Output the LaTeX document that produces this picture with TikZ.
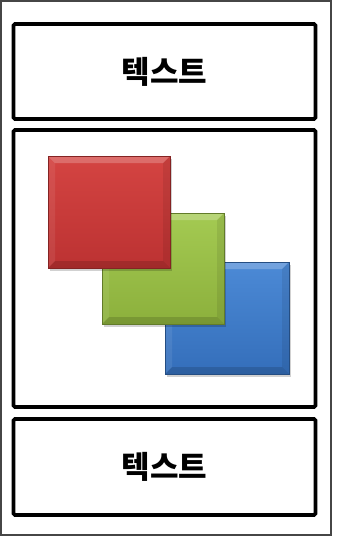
\documentclass[tikz,border=0pt]{standalone}
\usepackage{fontspec}
\usepackage{tikz}
\newfontfamily\kor{Noto Sans CJK KR}
\definecolor{frame_gray}{RGB}{70, 70, 70}
\definecolor{sq_red}{RGB}{212, 68, 66}
\definecolor{sq_red_dk}{RGB}{188, 50, 50}
\definecolor{sq_green}{RGB}{164, 202, 82}
\definecolor{sq_green_dk}{RGB}{140, 176, 60}
\definecolor{sq_blue}{RGB}{76, 138, 214}
\definecolor{sq_blue_dk}{RGB}{52, 110, 186}

\tikzset{
  panel/.style={draw, line width=3.6pt, rounded corners=1.5pt, minimum width=302pt,
    inner sep=0pt, font=\kor\bfseries\fontsize{31}{34}\selectfont},
}

% #1,#2 upper left corner, #3 width, #4 height, #5/#6 light/dark colour
\newcommand{\bevelsq}[6]{
  \fill[black, opacity=0.18] (#1+2, #2+3) rectangle ++(#3, #4);
  \shade[top color=#5, bottom color=#6] (#1, #2) rectangle ++(#3, #4);
  \fill[white, opacity=0.22] (#1, #2) -- ++(#3, 0) -- ++(-7, 7) -- (#1+7, #2+7) -- cycle;
  \fill[white, opacity=0.08] (#1, #2) -- (#1+7, #2+7) -- (#1+7, #2+#4-7) -- (#1, #2+#4) -- cycle;
  \fill[black, opacity=0.14] (#1, #2+#4) -- (#1+7, #2+#4-7) -- (#1+#3-7, #2+#4-7) -- (#1+#3, #2+#4) -- cycle;
  \fill[black, opacity=0.08] (#1+#3, #2) -- (#1+#3, #2+#4) -- (#1+#3-7, #2+#4-7) -- (#1+#3-7, #2+7) -- cycle;
  \draw[#6!70!black, line width=0.5pt] (#1, #2) rectangle ++(#3, #4);
}

\begin{document}
\begin{tikzpicture}[x=1pt, y=-1pt]
\useasboundingbox (0, 0) rectangle (341, 541);
\draw[frame_gray, line width=1.2pt] (1, 1) rectangle (331, 535);

\node[panel, minimum height=95pt] (top) at (164.5, 71.5) {텍스트};
\node[panel, minimum height=277pt] (mid) at (164.5, 268.5) {};
\node[panel, minimum height=96pt] (bottom) at (164.5, 467) {텍스트};

% overlapping squares, back to front
\bevelsq{165}{262}{124}{112}{sq_blue}{sq_blue_dk}
\bevelsq{102}{213}{122}{111}{sq_green}{sq_green_dk}
\bevelsq{48}{156}{122}{112}{sq_red}{sq_red_dk}

\end{tikzpicture}
\end{document}
